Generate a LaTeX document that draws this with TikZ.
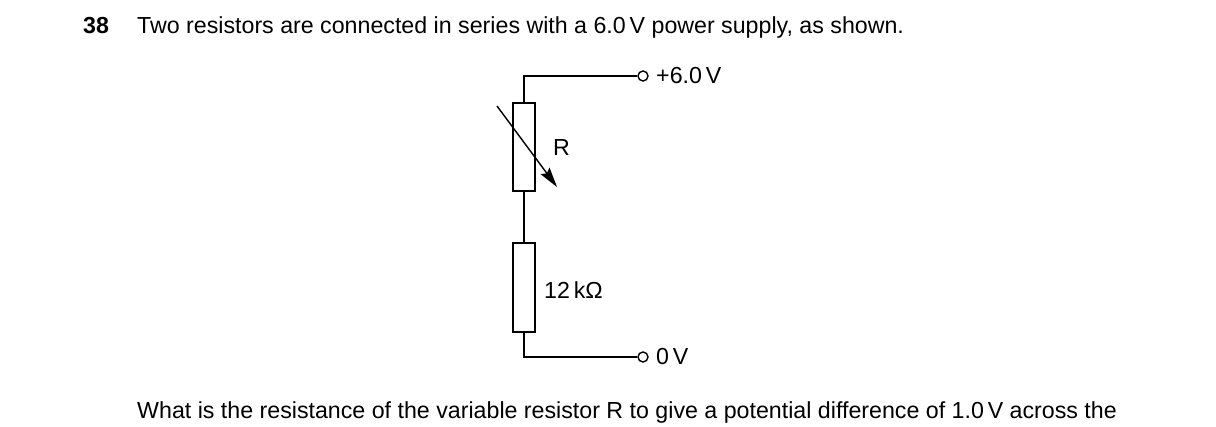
\documentclass[tikz,border=0pt]{standalone}
\usepackage{fontspec}
\setmainfont{Liberation Sans}
\usetikzlibrary{arrows.meta}
\begin{document}
\begin{tikzpicture}[x=1pt,y=-1pt,
  wire/.style={line width=1.5pt},
  res/.style={draw,line width=1.5pt,minimum width=22pt,minimum height=88pt,inner sep=0pt},
  term/.style={circle,draw,line width=1.4pt,minimum size=10pt,inner sep=0pt},
  lbl/.style={font=\fontsize{23.2}{27}\selectfont,inner sep=0pt}]
\useasboundingbox (0,0) rectangle (1216,427);
\node[lbl,anchor=base west] (num) at (83,34) {\textbf{38}};
\node[lbl,anchor=base west] (q1) at (137,34) {Two resistors are connected in series with a 6.0\,V power supply, as shown.};
\node[lbl,anchor=base west] (q2) at (137,419) {What is the resistance of the variable resistor R to give a potential difference of 1.0\,V across the};
\node[res] (r1) at (524,147) {};
\node[res,minimum height=89pt] (r2) at (524,287.5) {};
\node[term] (t1) at (643,76) {};
\node[term] (t2) at (643,357) {};
\coordinate (c1) at (524,76);
\coordinate (c2) at (524,357);
\draw[wire] (t1.west) -- (c1) -- (r1.north);
\draw[wire] (r1.south) -- (r2.north);
\draw[wire] (r2.south) -- (c2) -- (t2.west);
\coordinate (a1) at (497,106);
\coordinate (a2) at (557,187);
\draw[line width=1.4pt,-{Stealth[length=20pt,width=11pt,inset=3pt]}] (a1) -- (a2);
\node[lbl,anchor=west] (lr) at (553,148) {R};
\node[lbl,anchor=west] (l12) at (544,290) {12\,kΩ};
\node[lbl,anchor=west] (lp) at (656,76) {+6.0\,V};
\node[lbl,anchor=west] (l0) at (656,357) {0\,V};
\end{tikzpicture}
\end{document}
